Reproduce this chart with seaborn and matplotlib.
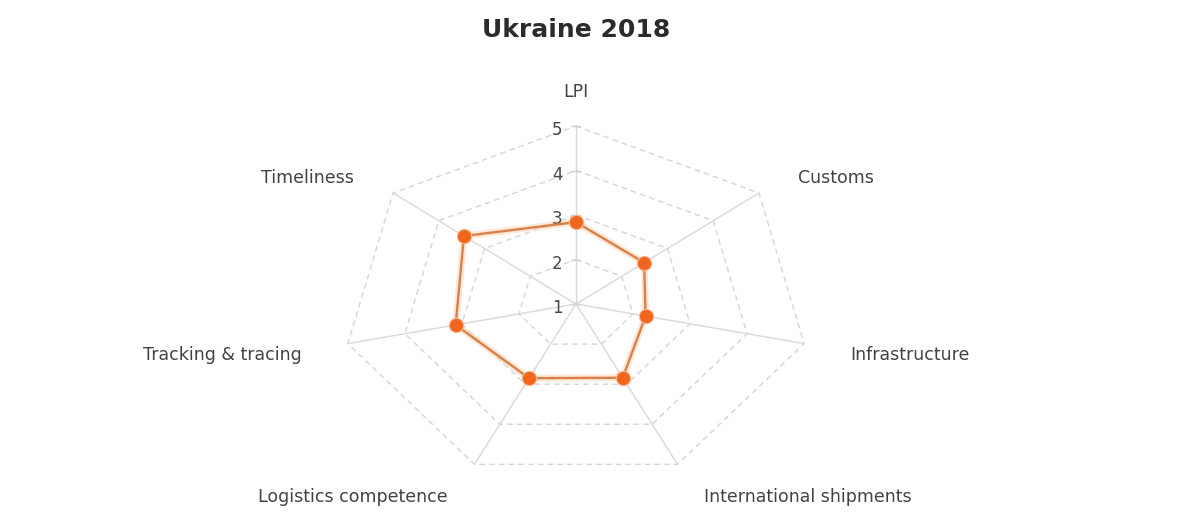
import numpy as np
import matplotlib
matplotlib.use("Agg")
import matplotlib.pyplot as plt
import seaborn as sns

# data
categories = ["LPI", "Customs", "Infrastructure", "International shipments",
              "Logistics competence", "Tracking & tracing", "Timeliness"]
scores = [2.84, 2.49, 2.22, 2.84, 2.85, 3.11, 3.45]
levels = [1, 2, 3, 4, 5]
title = "Ukraine 2018"

sns.set_theme(style="white")
plt.rcParams['font.family'] = ['DejaVu Sans']

# the original is stretched horizontally, so x and y get their own pixel scales
SX, SY = 58.5, 44.5      # pixels per unit of score
CX, CY = 576, 304        # centre in pixels (from top-left)
W, H = 1202, 528
r0 = levels[0]

n = len(categories)
theta = np.arange(n) * 2 * np.pi / n


def to_xy(vals, ang):
    r = np.asarray(vals, dtype=float) - r0
    return r * np.sin(ang), r * np.cos(ang)


fig = plt.figure(figsize=(W / 100, H / 100), dpi=100)
ax = fig.add_axes([0, 0, 1, 1])
ax.set_xlim(-CX / SX, (W - CX) / SX)
ax.set_ylim(-(H - CY) / SY, CY / SY)
ax.axis("off")

ring = np.append(theta, theta[0])

# dashed grid polygons
for lv in levels[1:]:
    gx, gy = to_xy([lv] * len(ring), ring)
    ax.plot(gx, gy, color="#d4d4d4", lw=1, ls=(0, (4, 3)), zorder=1)

# spokes
for a in theta:
    sx, sy = to_xy([r0, levels[-1]], np.array([a, a]))
    ax.plot(sx, sy, color="#d8d8d8", lw=1, zorder=1)

# radial tick marks and labels along LPI axis
for lv in levels:
    ax.plot([-0.08, 0.06], [lv - r0, lv - r0], color="#cfcfcf", lw=1, zorder=1)
    ax.text(-0.23, lv - r0 - 0.09, str(lv), ha="right", va="center",
            fontsize=12, color="#484848", zorder=3)

# series
px, py = to_xy(np.append(scores, scores[0]), ring)
ax.plot(px, py, color="#fcd8bd", lw=5, alpha=0.6, zorder=2,
        solid_capstyle="round")
sns.lineplot(x=px, y=py, sort=False, estimator=None, ax=ax,
             color="#d9804a", lw=1.7, zorder=3)
sns.scatterplot(x=px[:-1], y=py[:-1], ax=ax, color="#f0661e", s=105,
                edgecolor="#f9b88e", linewidth=0.8, zorder=4)

# category labels
lab_r = levels[-1] - r0
for cat, a in zip(categories, theta):
    s, c = np.sin(a), np.cos(a)
    if abs(s) < 1e-6:
        ha = "center"
        lx, ly = 0, lab_r * 1.19
    else:
        ha = "left" if s > 0 else "right"
        lx = lab_r * 1.152 * s + 0.19 * np.sign(s)
        ly = lab_r * 1.176 * c - 0.1
    ax.text(lx, ly, cat, ha=ha, va="center", fontsize=12.5, color="#424242")

fig.text(CX / W, 1 - 30 / H, title, ha="center", va="center",
         fontsize=18, fontweight="bold", color="#2b2b2b")

fig.savefig("out.png", dpi=100)
